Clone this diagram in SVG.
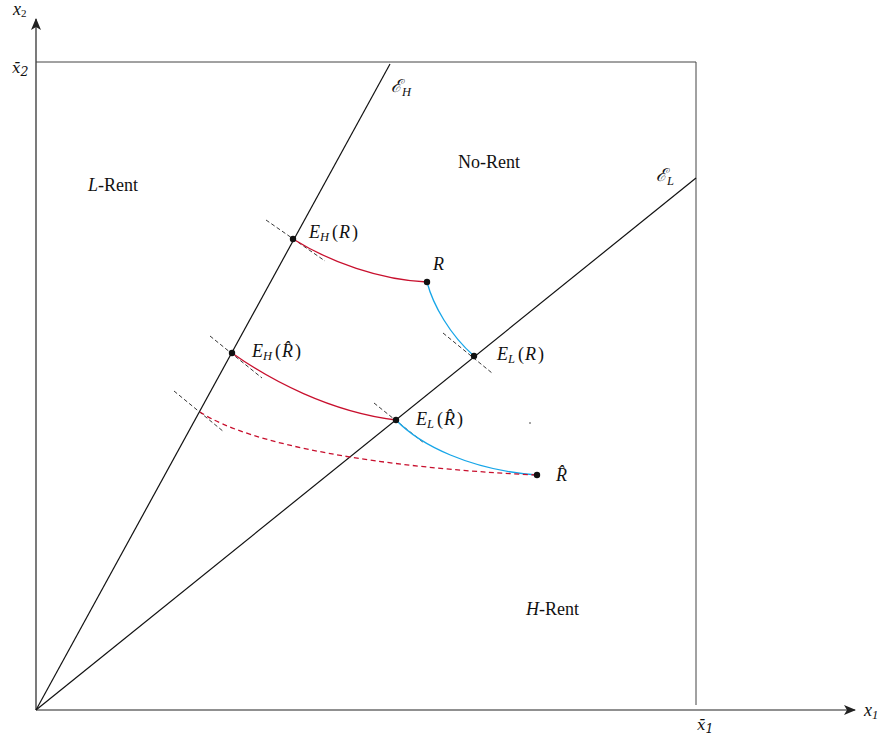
<svg xmlns="http://www.w3.org/2000/svg" width="881" height="740" viewBox="0 0 881 740">
<style>
text{font-family:"Liberation Serif","DejaVu Serif","Times New Roman",serif;fill:#111;font-size:18px}
.i{font-style:italic}
.s{font-size:12.5px;font-style:italic}
.bar{font-family:"DejaVu Serif","Liberation Serif",serif;font-size:15px}
.ax{stroke:#222;stroke-width:1.2;fill:none}
.box{stroke:#444;stroke-width:1;fill:none}
.ray{stroke:#111;stroke-width:1.2;fill:none}
.tan{stroke:#222;stroke-width:0.9;stroke-dasharray:4 2.5;fill:none}
.red{stroke:#c8102e;stroke-width:1.3;fill:none}
.blue{stroke:#17a6e8;stroke-width:1.3;fill:none}
.dash{stroke-dasharray:5 3.5}
.pt{fill:#111}
</style>
<defs>
<marker id="arr" viewBox="0 0 12 10" refX="11" refY="5" markerWidth="12" markerHeight="10" markerUnits="userSpaceOnUse" orient="auto">
<path d="M0,0 L12,5 L0,10 L3,5 Z" fill="#222"/>
</marker>
</defs>
<g id="axes">
<line class="ax" x1="36" y1="710" x2="36" y2="19" marker-end="url(#arr)"/>
<line class="ax" x1="36" y1="710" x2="855" y2="710" marker-end="url(#arr)"/>
<polyline class="box" points="36,62 696,62 696,705"/>
<text x="13" y="15" class="i" font-size="15">x<tspan font-size="11" dy="2" font-style="normal">2</tspan></text>
<text x="12" y="73" class="i bar">x̄<tspan class="s" dy="3" font-style="normal">2</tspan></text>
<text x="864" y="716" class="i">x<tspan class="s" dy="3" font-style="normal">1</tspan></text>
<text x="697" y="730" class="i bar">x̄<tspan class="s" dy="3" font-style="normal">1</tspan></text>
</g>
<g id="rays">
<line class="ray" x1="36" y1="710" x2="390" y2="64"/>
<line class="ray" x1="36" y1="710" x2="696" y2="178"/>
<text x="391" y="92" font-family="DejaVu Serif,serif" font-size="16" class="i">ℰ<tspan class="s" dy="4">H</tspan></text>
<text x="656" y="181" font-family="DejaVu Serif,serif" font-size="16" class="i">ℰ<tspan class="s" dy="4">L</tspan></text>
</g>
<g id="regions">
<text x="88" y="191"><tspan class="i">L</tspan>-Rent</text>
<text x="458" y="168">No-Rent</text>
<text x="526" y="615"><tspan class="i">H</tspan>-Rent</text>
</g>
<g id="connectors">
<line class="tan" x1="266" y1="220" x2="325" y2="261"/>
<line class="tan" x1="443" y1="333" x2="492" y2="373"/>
<line class="tan" x1="210" y1="336" x2="262" y2="378"/>
<line class="tan" x1="174" y1="391" x2="224" y2="432"/>
<line class="tan" x1="374" y1="403" x2="424" y2="443"/>
<path class="red" d="M293,239 C330,262 380,280 427,282"/>
<path class="blue" d="M427,282 C433,305 450,335 474,356"/>
<path class="red" d="M232,353 C270,380 330,412 396,420"/>
<path class="blue" d="M396,420 C420,445 470,470 537,475"/>
<path class="red dash" d="M200,412 C250,445 380,468 537,475"/>
</g>
<g id="EH_R">
<circle class="pt" cx="293" cy="239" r="3.2"/>
<text y="238"><tspan x="309" class="i">E</tspan><tspan class="s" x="320" dy="3">H</tspan><tspan x="332" dy="-3">(</tspan><tspan x="339" class="i">R</tspan><tspan x="352">)</tspan></text>
</g>
<g id="R">
<circle class="pt" cx="427" cy="282" r="3.2"/>
<text x="433" y="270" class="i">R</text>
</g>
<g id="EL_R">
<circle class="pt" cx="474" cy="356" r="3.2"/>
<text y="360"><tspan x="497" class="i">E</tspan><tspan class="s" x="508" dy="3">L</tspan><tspan x="518" dy="-3">(</tspan><tspan x="525" class="i">R</tspan><tspan x="538">)</tspan></text>
</g>
<g id="EH_Rhat">
<circle class="pt" cx="232" cy="353" r="3.2"/>
<text y="357"><tspan x="252" class="i">E</tspan><tspan class="s" x="263" dy="3">H</tspan><tspan x="275" dy="-3">(</tspan><tspan x="282" class="i">R̂</tspan><tspan x="295">)</tspan></text>
</g>
<g id="EL_Rhat">
<circle class="pt" cx="396" cy="420" r="3.2"/>
<text y="425"><tspan x="416" class="i">E</tspan><tspan class="s" x="427" dy="3">L</tspan><tspan x="437" dy="-3">(</tspan><tspan x="444" class="i">R̂</tspan><tspan x="457">)</tspan></text>
</g>
<g id="Rhat">
<circle class="pt" cx="537" cy="475" r="3.2"/>
<text x="556" y="481" class="i">R̂</text>
</g>
<circle cx="530" cy="423" r="0.8" fill="#333"/>
</svg>
